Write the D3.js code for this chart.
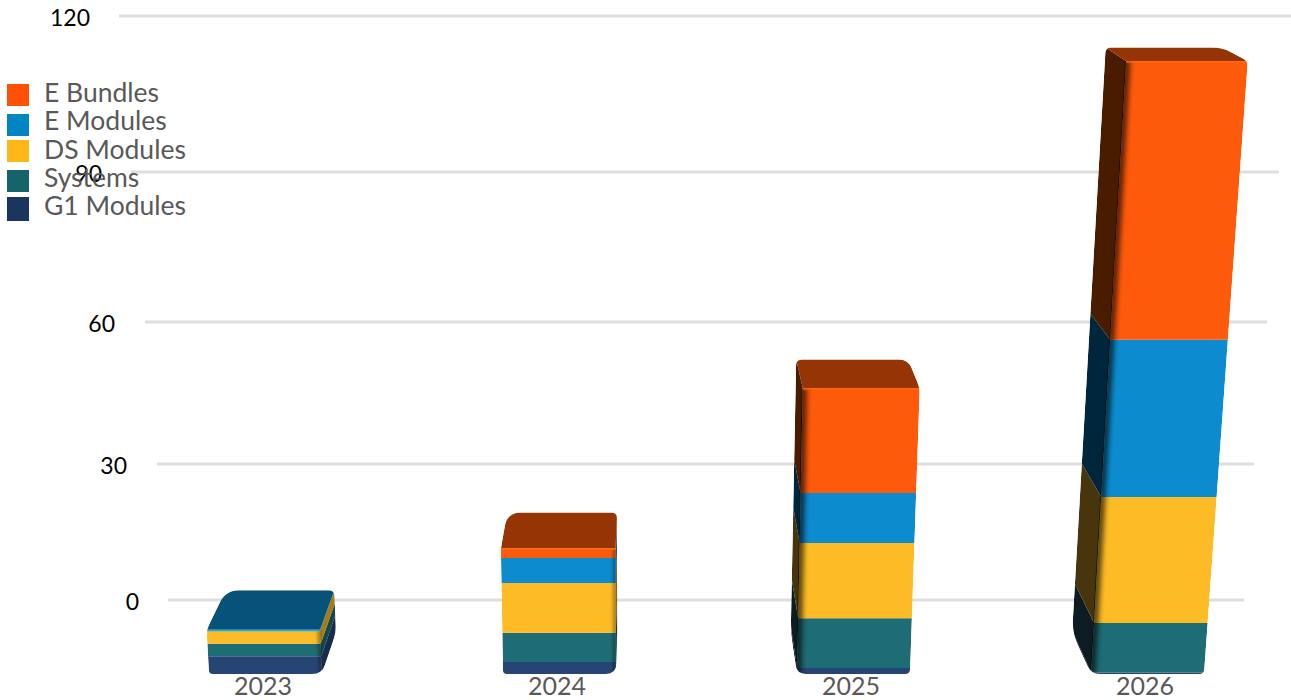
<!DOCTYPE html>
<html><head><meta charset="utf-8">
<script src="https://cdn.jsdelivr.net/npm/d3@7/dist/d3.min.js"></script>
<style>html,body{margin:0;padding:0;background:#fff;overflow:hidden}svg{display:block}text{font-family:Lato,"Open Sans",sans-serif}</style>
</head><body><svg id="c" width="1291" height="700"></svg>
<script>
const years=["2023","2024","2025","2026"];
const ticks=[0,30,60,90,120];
const legendNames=["E Bundles","E Modules","DS Modules","Systems","G1 Modules"];
const legendColors=["#fe5000","#0085c3","#ffb718","#14646a","#1a365d"];
const faceColors=["#fe5a0b","#0c8cce","#fdbc25","#1e6c74","#264575"];
const eBundles=[0,1.8,19.4,51.5];
const eModules=[0.15,4.6,9.2,29];
const dsModules=[2.4,9.2,13.9,23.3];
const systems=[2.3,5.4,9.2,9.1];
const g1Modules=[3.3,2.2,1.1,0.3];
const stackOrder=[g1Modules,systems,dsModules,eModules,eBundles];
const stackFaces=[4,3,2,1,0].map(i=>faceColors[i]);

const svg=d3.select("#c"),W=1291,H=700;
const defs=svg.append("defs");
const mkBlur=(id,s)=>defs.append("filter").attr("id",id).attr("filterUnits","userSpaceOnUse")
  .attr("x",0).attr("y",0).attr("width",W).attr("height",H)
  .append("feGaussianBlur").attr("stdDeviation",s);
mkBlur("b1",0.7);mkBlur("b3",2.5);mkBlur("b2",1.4);

// back wall
const wallY=d3.scaleLinear().domain(ticks).range([600,464,322,172,16]);
const wallL=d3.scaleLinear().domain(ticks).range([168,157,145,131,119]);
const wallR=d3.scaleLinear().domain(ticks).range([1244,1254,1267,1279,1291]);
const tickR=d3.scaleLinear().domain(ticks).range([139,127,115,102,90]);

// front plane + perspective
const band=d3.scaleBand().domain(years).range([209,1204]).paddingInner(0.616);
const frontY=d3.scaleLinear().domain([0,113]).range([674,62]);
const vpX=640,vertVpY=8570,depthVpX=650,depthVpY=-230,depthFracX=0.043,depthFracY=0.046;
function proj(year,u,v,d){
  const y=frontY(v);
  const xb=band(year)+u*band.bandwidth();
  const x=vpX+(xb-vpX)*(vertVpY-y)/(vertVpY-frontY(0));
  return [x+(depthVpX-x)*d*depthFracX, y+(depthVpY-y)*d*depthFracY];
}
function rounded(pts,rs){
  const p=d3.path(),n=pts.length;
  pts.forEach((c,i)=>{
    const a=pts[(i+n-1)%n],b=pts[(i+1)%n],r=Array.isArray(rs)?rs[i]:rs;
    const da=Math.hypot(a[0]-c[0],a[1]-c[1]),db=Math.hypot(b[0]-c[0],b[1]-c[1]);
    const ra=Math.min(r,da/2),rb=Math.min(r,db/2);
    const s=[c[0]+(a[0]-c[0])*ra/da,c[1]+(a[1]-c[1])*ra/da];
    const e=[c[0]+(b[0]-c[0])*rb/db,c[1]+(b[1]-c[1])*rb/db];
    if(i===0)p.moveTo(s[0],s[1]);else p.lineTo(s[0],s[1]);
    p.quadraticCurveTo(c[0],c[1],e[0],e[1]);
  });
  p.closePath();return p.toString();
}
const poly=pts=>"M"+pts.map(q=>q.join(",")).join("L")+"Z";

// gridlines
svg.append("g").selectAll("line").data(ticks).join("line")
  .attr("x1",wallL).attr("x2",wallR).attr("y1",wallY).attr("y2",wallY)
  .attr("stroke","#dedede").attr("stroke-width",3);

// bars
years.forEach((yr,i)=>{
  const vals=stackOrder.map(s=>s[i]);
  const cum=d3.cumsum(vals);
  const total=cum[cum.length-1];
  const leftVisible=proj(yr,0,0,0)[0]>vpX;
  const tl=proj(yr,0,total,0),tr=proj(yr,1,total,0),bl=proj(yr,0,0,0),br=proj(yr,1,0,0);
  const btl=proj(yr,0,total,1),btr=proj(yr,1,total,1),bbl=proj(yr,0,0,1),bbr=proj(yr,1,0,1);
  const sil=leftVisible?[btl,btr,tr,br,bl,bbl]:[btl,btr,bbr,br,bl,tl];
  const rad=leftVisible?[6,10,6,5,9,14]:[14,6,8,10,4,6];
  const clipId="clip"+yr,frontId="front"+yr;
  defs.append("clipPath").attr("id",clipId).append("path").attr("d",rounded(sil,rad));
  // shading region reaches a hair past the shaded edge so no light seam shows there
  const pad=1,sideTop=leftVisible?[tl[0]-pad,tl[1]]:[tr[0]+pad,tr[1]],sideBot=leftVisible?[bl[0]-pad,bl[1]]:[br[0]+pad,br[1]];
  defs.append("clipPath").attr("id",frontId).append("path")
    .attr("d",poly(leftVisible?[sideTop,tr,br,sideBot]:[tl,sideTop,sideBot,bl]));
  const g=svg.append("g").attr("clip-path",`url(#${clipId})`);
  const walls=g.append("g").attr("filter","url(#b1)");
  const k=leftVisible?3.5:1.2;
  const u=leftVisible?0:1;
  let topFace=faceColors[0];
  vals.forEach((v,j)=>{
    if(v<=0)return;
    const v0=j?cum[j-1]:0,v1=cum[j];
    topFace=stackFaces[j];
    walls.append("path")
      .attr("d",poly([proj(yr,u,v0,0),proj(yr,u,v1,0),proj(yr,u,v1,1),proj(yr,u,v0,1)]))
      .attr("fill",d3.color(stackFaces[j]).darker(k).formatHex());
  });
  g.append("path").attr("d",poly([tl,tr,btr,btl])).attr("fill",d3.color(topFace).darker(1.5).formatHex());
  vals.forEach((v,j)=>{
    if(v<=0)return;
    const v0=j?cum[j-1]:0,v1=cum[j];
    g.append("path")
      .attr("d",poly([proj(yr,0,v0,0),proj(yr,1,v0,0),proj(yr,1,v1,0),proj(yr,0,v1,0)]))
      .attr("fill",stackFaces[j]);
  });
  const shade=g.append("g").attr("clip-path",`url(#${frontId})`);
  const edge=(a,b,col,w,op,f)=>shade.append("line")
    .attr("x1",a[0]).attr("y1",a[1]).attr("x2",b[0]).attr("y2",b[1])
    .attr("stroke",col).attr("stroke-width",w).attr("stroke-opacity",op).attr("filter",`url(#${f})`);
  if(leftVisible) edge(tl,bl,"#000",9,0.62,"b3");
  else edge(tr,br,"#000",6,0.3,"b2");
  edge(tl,tr,d3.color(topFace).brighter(0.5).formatHex(),3,0.8,"b1");
});

// tick labels
svg.append("g").selectAll("text").data(ticks).join("text")
  .attr("x",tickR).attr("y",d=>wallY(d)+1).attr("text-anchor","end").attr("dominant-baseline","central")
  .attr("font-size",23).attr("fill","#000").text(d=>d);

// category labels
svg.append("g").selectAll("text").data(years).join("text")
  .attr("x",d=>band(d)+band.bandwidth()/2-2.5).attr("y",685).attr("text-anchor","middle")
  .attr("dominant-baseline","central").attr("font-size",25).attr("fill","#595959").text(d=>d);

// legend
const swatchY=d3.scaleOrdinal(legendNames,[84,114,140,170,197]);
const swatchH=d3.scaleOrdinal(legendNames,[22,22,22,22,24]);
const labelY=d3.scalePoint(legendNames,[92,205]);
const lg=svg.append("g");
lg.selectAll("rect").data(legendNames).join("rect")
  .attr("x",7).attr("y",swatchY).attr("width",22).attr("height",swatchH)
  .attr("fill",(d,i)=>legendColors[i]);
lg.selectAll("text").data(legendNames).join("text")
  .attr("x",44).attr("y",labelY).attr("dominant-baseline","central")
  .attr("font-size",26.5).attr("fill","#595959").text(d=>d);
</script></body></html>
